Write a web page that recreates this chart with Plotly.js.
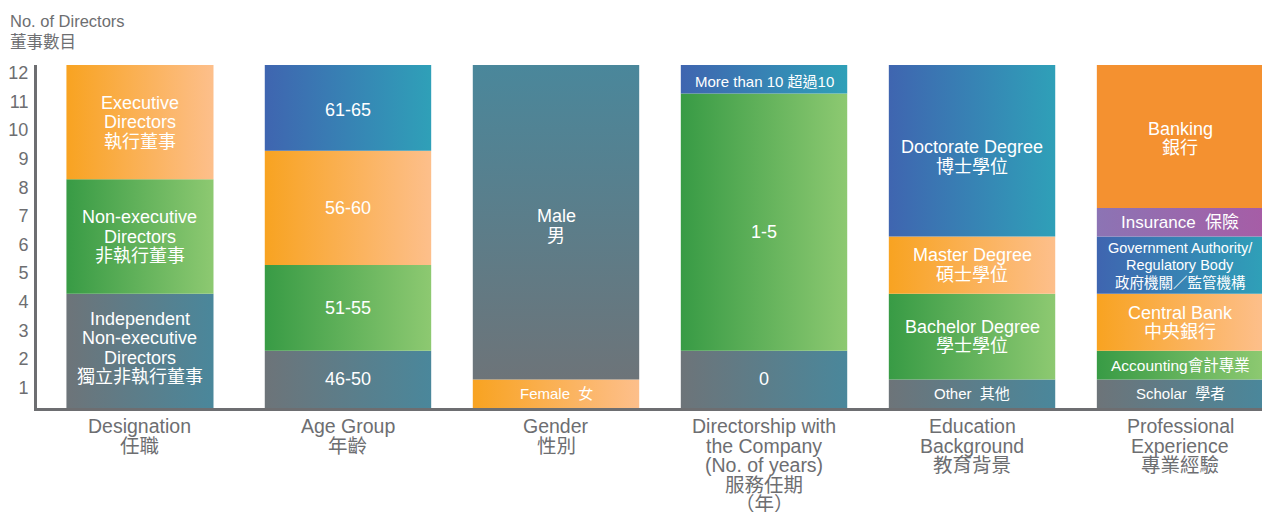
<!DOCTYPE html>
<html><head><meta charset="utf-8">
<script src="https://cdn.plot.ly/plotly-3.0.1.min.js"></script>
<style>html,body{margin:0;padding:0;background:#fff}#chart{width:1262px;height:512px}</style>
</head><body><div id="chart"></div>
<script>
// ---------------- DATA ----------------
const categories = ['Designation', 'Age Group', 'Gender', 'Directorship', 'Education', 'Professional'];
const categoryLabels = [
  ['Designation', '任職'],
  ['Age Group', '年齡'],
  ['Gender', '性別'],
  ['Directorship with', 'the Company', '(No. of years)', '服務任期', '（年）'],
  ['Education', 'Background', '教育背景'],
  ['Professional', 'Experience', '專業經驗']
];
const yTickValues = [1, 2, 3, 4, 5, 6, 7, 8, 9, 10, 11, 12];
const yTickLabels = ['1', '2', '3', '4', '5', '6', '7', '8', '9', '10', '11', '12'];
const yTitleLines = ['No. of Directors', '董事數目'];

// segments, bottom to top
const designationLabels = [['Independent', 'Non-executive', 'Directors', '獨立非執行董事'], ['Non-executive', 'Directors', '非執行董事'], ['Executive', 'Directors', '執行董事']];
const designationValues = [4, 4, 4];
const ageLabels = [['46-50'], ['51-55'], ['56-60'], ['61-65']];
const ageValues = [2, 3, 4, 3];
const genderLabels = [['Female\u00a0\u00a0女'], ['Male', '男']];
const genderValues = [1, 11];
const directorshipLabels = [['0'], ['1-5'], ['More than 10 超過10']];
const directorshipValues = [2, 9, 1];
const educationLabels = [['Other\u00a0\u00a0其他'], ['Bachelor Degree', '學士學位'], ['Master Degree', '碩士學位'], ['Doctorate Degree', '博士學位']];
const educationValues = [1, 3, 2, 6];
const professionalLabels = [['Scholar\u00a0\u00a0學者'], ['Accounting會計專業'], ['Central Bank', '中央銀行'], ['Government Authority/', 'Regulatory Body', '政府機關／監管機構'], ['Insurance\u00a0\u00a0保險'], ['Banking', '銀行']];
const professionalValues = [1, 1, 2, 2, 1, 5];

const segmentLabels = [designationLabels, ageLabels, genderLabels, directorshipLabels, educationLabels, professionalLabels];
const segmentValues = [designationValues, ageValues, genderValues, directorshipValues, educationValues, professionalValues];

// ---------------- STYLE ----------------
const FONT = 'Liberation Sans, Arial, "Noto Sans CJK TC", sans-serif';
const GREY = '#6d6e71';
const palette = {
  orange: ['#F8A321', '#FDBF8B'],
  green:  ['#389B45', '#8DC971'],
  gray:   ['#6D7479', '#4A879B'],
  blue:   ['#3F65B0', '#2FA0B8'],
  purple: ['#8C74B4', '#A65DA6'],
  bank:   ['#F49130', '#F49130']
};
const segmentColors = [
  ['gray', 'green', 'orange'],
  ['gray', 'green', 'orange', 'blue'],
  ['orange', 'gray'],
  ['gray', 'green', 'blue'],
  ['gray', 'green', 'orange', 'blue'],
  ['gray', 'green', 'orange', 'blue', 'purple', 'bank']
];
const segmentGradient = [
  ['horizontal', 'horizontal', 'horizontal'],
  ['horizontal', 'horizontal', 'horizontal', 'horizontal'],
  ['horizontal', 'vertical'],
  ['horizontal', 'horizontal', 'horizontal'],
  ['horizontal', 'horizontal', 'horizontal', 'horizontal'],
  ['horizontal', 'horizontal', 'horizontal', 'horizontal', 'horizontal', 'horizontal']
];
const segmentFont = [
  [18, 18, 18],
  [18, 18, 18, 18],
  [15, 18],
  [18, 18, 15],
  [15, 18, 18, 18],
  [15, 15.5, 18, 14.5, 17, 18]
];
const segmentLineGap = [
  [19.5, 19.5, 19.5],
  [19.5, 19.5, 19.5, 19.5],
  [19.5, 19.5],
  [19.5, 19.5, 19.5],
  [19.5, 19.5, 19.5, 19.5],
  [19.5, 19.5, 19.5, 17.5, 19.5, 19.5]
];
// extra label shift in px (positive = down)
const segmentLabelDrop = [
  [-3, 0, 0],
  [0, 0, 0, 2],
  [0, 4],
  [0, 10, 2],
  [0, 0, 0, 6],
  [0, 0, 0, 0, 0, 2]
];
const barWidths = [0.707, 0.8, 0.8, 0.8, 0.8, 0.8];

// ---------------- BUILD ----------------
const traces = [];
const annotations = [];
segmentValues.forEach((vals, i) => {
  let base = 0;
  const w = barWidths[i];
  vals.forEach((v, j) => {
    const x0 = i - w / 2, x1 = i + w / 2, y0 = base, y1 = base + v;
    const cols = palette[segmentColors[i][j]];
    traces.push({
      type: 'scatter', mode: 'lines',
      x: [x0, x1, x1, x0, x0], y: [y0, y0, y1, y1, y0],
      fill: 'toself',
      fillcolor: cols[0],
      fillgradient: {type: segmentGradient[i][j], colorscale: [[0, cols[0]], [1, cols[1]]]},
      line: {width: 0, color: 'rgba(0,0,0,0)'},
      hoverinfo: 'skip', showlegend: false
    });
    const lines = segmentLabels[i][j];
    const n = lines.length, gap = segmentLineGap[i][j];
    lines.forEach((t, k) => {
      annotations.push({
        x: i, y: base + v / 2, xref: 'x', yref: 'y',
        text: t, showarrow: false, xanchor: 'center', yanchor: 'middle',
        yshift: ((n - 1) / 2 - k) * gap - segmentLabelDrop[i][j],
        font: {family: FONT, size: segmentFont[i][j], color: '#ffffff'}
      });
    });
    base += v;
  });
});

categoryLabels.forEach((lines, i) => {
  lines.forEach((t, k) => {
    annotations.push({
      x: i, y: 0, xref: 'x', yref: 'paper', text: t, showarrow: false,
      xanchor: 'center', yanchor: 'middle', yshift: -(18 + k * 19.5),
      font: {family: FONT, size: 19.5, color: GREY}
    });
  });
});

yTitleLines.forEach((t, k) => {
  annotations.push({
    x: 0, y: 1, xref: 'paper', yref: 'paper', text: t, showarrow: false,
    xanchor: 'left', yanchor: 'middle', xshift: -29, yshift: 44 - k * 21,
    font: {family: FONT, size: 16.5, color: GREY}
  });
});

const layout = {
  width: 1262, height: 512,
  margin: {l: 37, r: 0, t: 65, b: 104},
  paper_bgcolor: '#ffffff', plot_bgcolor: '#ffffff',
  showlegend: false, hovermode: false,
  xaxis: {
    range: [-0.495, 5.394], showgrid: false, zeroline: false,
    showticklabels: false, ticks: '', showline: true, linecolor: GREY, linewidth: 3,
    fixedrange: true
  },
  yaxis: {
    range: [0, 12], showgrid: false, zeroline: false,
    tickvals: yTickValues, ticktext: yTickLabels, ticks: '',
    ticklabelshift: 8, ticklabelstandoff: 2,
    tickfont: {family: FONT, size: 18, color: GREY},
    showline: true, linecolor: GREY, linewidth: 3, fixedrange: true
  },
  annotations: annotations
};

Plotly.newPlot('chart', traces, layout, {displayModeBar: false, staticPlot: true});
</script>
</body></html>
